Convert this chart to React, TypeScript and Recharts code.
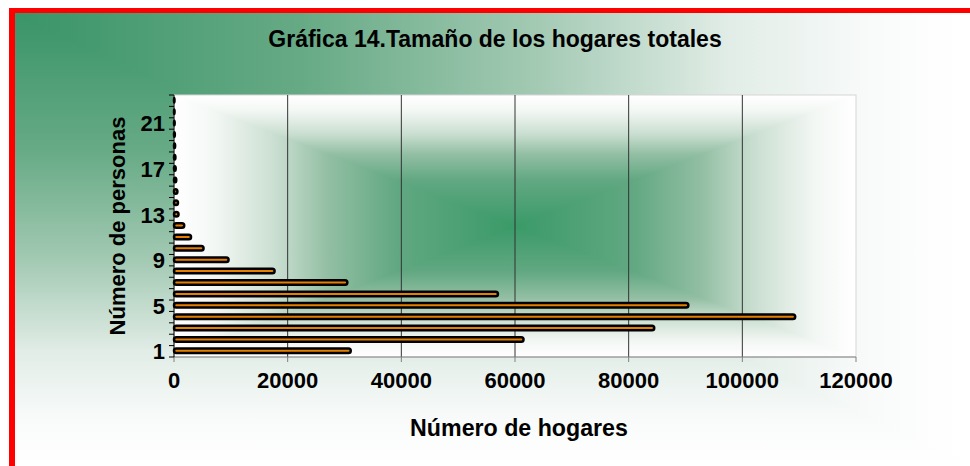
import React from 'react';
import { BarChart, Bar, XAxis, YAxis, CartesianGrid } from 'recharts';

// household size (persons) and number of households
const personas = [1, 2, 3, 4, 5, 6, 7, 8, 9, 10, 11, 12, 13, 14, 15, 16, 17, 18, 19, 20, 21, 22, 23];
const hogares = [
  31100, 61500, 84500, 109300, 90500, 57000, 30500, 17700, 9600, 5200, 3000, 1800,
  800, 700, 600, 400, 300, 250, 200, 150, 120, 100, 80,
];
const xTicks = [0, 20000, 40000, 60000, 80000, 100000, 120000];
const gridValues = [20000, 40000, 60000, 80000, 100000];
const yLabels = [1, 5, 9, 13, 17, 21];

const data = personas.map((n, i) => ({ n, v: hogares[i] }));

const W = 955;
const H = 453;
const M = { top: 82, right: 114, bottom: 79, left: 99 };
const Y_AXIS_W = 60;
const X_AXIS_H = 30;
const PL = M.left + Y_AXIS_W;
const PT = M.top;
const PR = W - M.right;
const PB = H - M.bottom - X_AXIS_H;
const BAND = (PB - PT) / personas.length;

const FONT = '"Liberation Sans", Arial, Helvetica, sans-serif';

const outerStops = [
  ['0', '#3a9468'],
  ['0.3', '#66aa85'],
  ['0.55', '#a4cab4'],
  ['0.75', '#e2ede7'],
  ['0.9', '#f9fbfa'],
  ['1', '#ffffff'],
];
const plotStops = [
  ['0', '#ffffff'],
  ['0.12', '#f3f7f4'],
  ['0.3', '#c9ded0'],
  ['0.45', '#93bfa4'],
  ['0.65', '#62a882'],
  ['1', '#3a9a68'],
];

const grad = (id: string, x1: number, y1: number, x2: number, y2: number, stops: string[][]) => (
  <linearGradient id={id} x1={x1} y1={y1} x2={x2} y2={y2}>
    {stops.map(([o, c]) => (
      <stop key={o} offset={o} stopColor={c} />
    ))}
  </linearGradient>
);

const YTick = (props: any) => {
  const { x, y, payload } = props;
  const half = BAND / 2;
  return (
    <g>
      <line x1={x - 5} x2={x} y1={y + half} y2={y + half} stroke="#000" />
      {payload.value === personas[personas.length - 1] && (
        <line x1={x - 5} x2={x} y1={y - half} y2={y - half} stroke="#000" />
      )}
      {yLabels.includes(payload.value) && (
        <text x={x - 9} y={y} dy="0.36em" textAnchor="end" fontSize={22} fontWeight="bold" fill="#000">
          {payload.value}
        </text>
      )}
    </g>
  );
};

const BarShape = (props: any) => {
  const { x, y, width, height } = props;
  return (
    <rect
      x={x}
      y={y}
      width={Math.max(width, 0.5)}
      height={height}
      rx={height / 2}
      fill="#e67e00"
      stroke="#000"
      strokeWidth={2.5}
    />
  );
};

export default function App() {
  const cx = (PL + PR) / 2;
  const cy = (PT + PB) / 2;
  return (
    <div
      style={{
        position: 'absolute',
        left: 9,
        top: 8,
        width: W + 6,
        height: H + 5,
        borderLeft: '6px solid #ff0000',
        borderTop: '5px solid #ff0000',
        boxSizing: 'border-box',
        overflow: 'hidden',
        fontFamily: FONT,
      }}
    >
      <svg width={W} height={H} style={{ position: 'absolute', left: 0, top: 0 }}>
        <defs>
          {grad('bgH', 0, 0, 1, 0, outerStops)}
          {grad('bgV', 0, 0, 0, 1, outerStops)}
          {grad('pT', 0, 0, 0, 1, plotStops)}
          {grad('pB', 0, 1, 0, 0, plotStops)}
          {grad('pL', 0, 0, 1, 0, plotStops)}
          {grad('pR', 1, 0, 0, 0, plotStops)}
        </defs>
        <polygon points={`0,0 ${W},0 ${W},${H}`} fill="url(#bgH)" shapeRendering="crispEdges" />
        <polygon points={`0,0 0,${H} ${W},${H}`} fill="url(#bgV)" shapeRendering="crispEdges" />
        <polygon points={`${PL},${PT} ${PR},${PT} ${cx},${cy}`} fill="url(#pT)" shapeRendering="crispEdges" />
        <polygon points={`${PL},${PB} ${PR},${PB} ${cx},${cy}`} fill="url(#pB)" shapeRendering="crispEdges" />
        <polygon points={`${PL},${PT} ${PL},${PB} ${cx},${cy}`} fill="url(#pL)" shapeRendering="crispEdges" />
        <polygon points={`${PR},${PT} ${PR},${PB} ${cx},${cy}`} fill="url(#pR)" shapeRendering="crispEdges" />
        <rect x={PL} y={PT} width={PR - PL} height={PB - PT} fill="none" stroke="#d6d6d6" />
        <text x={480} y={34} textAnchor="middle" fontSize={23} fontWeight="bold" fill="#000">
          Gráfica 14.Tamaño de los hogares totales
        </text>
        <text x={504} y={423} textAnchor="middle" fontSize={23.2} fontWeight="bold" fill="#000">
          Número de hogares
        </text>
        <text
          x={0}
          y={0}
          transform={`translate(110, ${cy}) rotate(-90)`}
          textAnchor="middle"
          fontSize={22}
          fontWeight="bold"
          fill="#000"
        >
          Número de personas
        </text>
      </svg>
      <div style={{ position: 'absolute', left: 0, top: 0 }}>
        <BarChart width={W} height={H} data={data} layout="vertical" margin={M} barSize={4.5}>
          <CartesianGrid horizontal={false} stroke="#333" verticalValues={gridValues} />
          <XAxis
            type="number"
            dataKey="v"
            domain={[0, 120000]}
            ticks={xTicks}
            interval={0}
            height={X_AXIS_H}
            tickSize={5}
            tickMargin={10}
            axisLine={{ stroke: '#808080' }}
            tickLine={{ stroke: '#808080' }}
            tick={{ fontSize: 22, fontWeight: 'bold', fill: '#000' }}
          />
          <YAxis
            type="category"
            dataKey="n"
            reversed
            width={Y_AXIS_W}
            interval={0}
            tickSize={0}
            tickMargin={0}
            tickLine={false}
            axisLine={{ stroke: '#000' }}
            tick={<YTick />}
          />
          <Bar dataKey="v" shape={<BarShape />} isAnimationActive={false} />
        </BarChart>
      </div>
    </div>
  );
}
